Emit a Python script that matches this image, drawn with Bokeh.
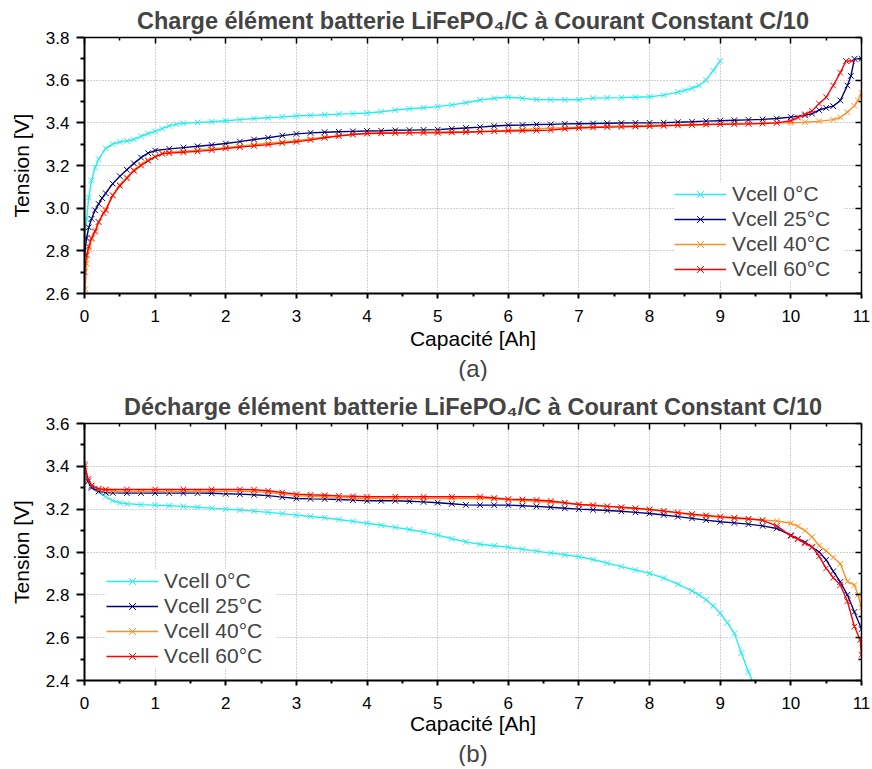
from bokeh.plotting import figure
from bokeh.models import (Range1d, FixedTicker, LinearAxis, Title, Legend, LegendItem,
                          PrintfTickFormatter, ColumnDataSource)
from bokeh.layouts import column
from bokeh.embed import file_html
from bokeh.resources import INLINE

# ---------------- data ----------------
SERIES_LABELS = ["Vcell 0°C", "Vcell 25°C", "Vcell 40°C", "Vcell 60°C"]
SERIES_COLORS = ["#22EEEE", "#000080", "#FF9020", "#FF0000"]

X_TICKS = [0, 1, 2, 3, 4, 5, 6, 7, 8, 9, 10, 11]
X_MINOR = [0.5, 1.5, 2.5, 3.5, 4.5, 5.5, 6.5, 7.5, 8.5, 9.5, 10.5]
X_GRID = [1, 2, 3, 4, 5, 6, 7, 8, 9, 10]

CHG_Y_TICKS = [2.6, 2.8, 3.0, 3.2, 3.4, 3.6, 3.8]
CHG_Y_MINOR = [2.7, 2.9, 3.1, 3.3, 3.5, 3.7]
DCH_Y_TICKS = [2.4, 2.6, 2.8, 3.0, 3.2, 3.4, 3.6]
DCH_Y_MINOR = [2.5, 2.7, 2.9, 3.1, 3.3, 3.5]

# Charge, 0 °C
CHG_0C_X = [0.0, 0.03, 0.06, 0.1, 0.15, 0.2, 0.3, 0.4, 0.5, 0.6, 0.7, 0.8, 0.9, 1.0, 1.1, 1.2, 1.3,
            1.4, 1.6, 1.8, 2.0, 2.2, 2.4, 2.6, 2.8, 3.0, 3.2, 3.4, 3.6, 3.8, 4.0, 4.2, 4.4, 4.6, 4.8,
            5.0, 5.2, 5.4, 5.6, 5.8, 6.0, 6.2, 6.4, 6.6, 6.8, 7.0, 7.2, 7.4, 7.6, 7.8, 8.0, 8.2, 8.4,
            8.5, 8.6, 8.7, 8.8, 8.9, 9.0]
CHG_0C_V = [2.86, 2.95, 3.05, 3.13, 3.19, 3.23, 3.28, 3.30, 3.31, 3.315, 3.322, 3.337, 3.35, 3.36,
            3.373, 3.386, 3.394, 3.398, 3.402, 3.405, 3.41, 3.415, 3.42, 3.424, 3.428, 3.432, 3.435,
            3.438, 3.441, 3.443, 3.446, 3.452, 3.46, 3.466, 3.471, 3.476, 3.484, 3.494, 3.507, 3.515,
            3.52, 3.515, 3.509, 3.508, 3.508, 3.508, 3.516, 3.517, 3.518, 3.52, 3.522, 3.53, 3.544,
            3.552, 3.562, 3.575, 3.60, 3.645, 3.69]

# Charge, 25 °C
CHG_25C_X = [0.0, 0.03, 0.06, 0.1, 0.15, 0.2, 0.25, 0.3, 0.4, 0.5, 0.6, 0.7, 0.8, 0.9, 1.0, 1.2, 1.4,
             1.6, 1.8, 2.0, 2.2, 2.4, 2.6, 2.8, 3.0, 3.2, 3.4, 3.6, 3.8, 4.0, 4.2, 4.4, 4.6, 4.8, 5.0,
             5.2, 5.4, 5.6, 5.8, 6.0, 6.2, 6.4, 6.6, 6.8, 7.0, 7.2, 7.4, 7.6, 7.8, 8.0, 8.2, 8.4, 8.6,
             8.8, 9.0, 9.2, 9.4, 9.6, 9.8, 10.0, 10.2, 10.3, 10.4, 10.5, 10.6, 10.7, 10.8, 10.85,
             10.9, 11.0]
CHG_25C_V = [2.78, 2.86, 2.91, 2.95, 2.99, 3.02, 3.047, 3.07, 3.115, 3.15, 3.18, 3.21, 3.237, 3.258,
             3.27, 3.278, 3.284, 3.29, 3.296, 3.303, 3.312, 3.322, 3.33, 3.34, 3.348, 3.353, 3.356,
             3.358, 3.36, 3.362, 3.363, 3.365, 3.366, 3.367, 3.368, 3.372, 3.376, 3.38, 3.385, 3.389,
             3.39, 3.392, 3.393, 3.395, 3.396, 3.397, 3.398, 3.399, 3.40, 3.40, 3.401, 3.403, 3.405,
             3.408, 3.41, 3.412, 3.414, 3.416, 3.42, 3.427, 3.435, 3.443, 3.46, 3.47, 3.478, 3.505,
             3.575, 3.62, 3.70, 3.70]

# Charge, 40 °C
CHG_40C_X = [0.01, 0.03, 0.06, 0.1, 0.15, 0.2, 0.3, 0.4, 0.5, 0.6, 0.7, 0.8, 0.9, 1.0, 1.1, 1.2, 1.4,
             1.6, 1.8, 2.0, 2.2, 2.4, 2.6, 2.8, 3.0, 3.2, 3.4, 3.6, 3.8, 4.0, 4.2, 4.4, 4.6, 4.8, 5.0,
             5.2, 5.4, 5.6, 5.8, 6.0, 6.2, 6.4, 6.6, 6.8, 7.0, 7.2, 7.4, 7.6, 7.8, 8.0, 8.2, 8.4, 8.6,
             8.8, 9.0, 9.2, 9.4, 9.6, 9.8, 10.0, 10.2, 10.4, 10.6, 10.7, 10.8, 10.9, 10.95, 11.0]
CHG_40C_V = [2.62, 2.74, 2.81, 2.855, 2.895, 2.935, 2.995, 3.06, 3.11, 3.145, 3.18, 3.205, 3.226,
             3.242, 3.256, 3.262, 3.267, 3.272, 3.278, 3.284, 3.29, 3.297, 3.304, 3.31, 3.316, 3.324,
             3.333, 3.34, 3.346, 3.35, 3.352, 3.354, 3.355, 3.356, 3.357, 3.358, 3.359, 3.36, 3.362,
             3.365, 3.368, 3.372, 3.375, 3.377, 3.379, 3.381, 3.383, 3.385, 3.386, 3.388, 3.389, 3.39,
             3.392, 3.393, 3.395, 3.396, 3.397, 3.398, 3.40, 3.40, 3.403, 3.407, 3.415, 3.425, 3.45,
             3.48, 3.505, 3.54]

# Charge, 60 °C
CHG_60C_X = [0.0, 0.03, 0.06, 0.1, 0.15, 0.2, 0.27, 0.3, 0.4, 0.5, 0.6, 0.7, 0.8, 0.9, 1.0, 1.1, 1.2,
             1.4, 1.6, 1.8, 2.0, 2.2, 2.4, 2.6, 2.8, 3.0, 3.2, 3.4, 3.6, 3.8, 4.0, 4.2, 4.4, 4.6, 4.8,
             5.0, 5.2, 5.4, 5.6, 5.8, 6.0, 6.2, 6.4, 6.6, 6.8, 7.0, 7.2, 7.4, 7.6, 7.8, 8.0, 8.2, 8.4,
             8.6, 8.8, 9.0, 9.2, 9.4, 9.6, 9.8, 10.0, 10.1, 10.2, 10.3, 10.4, 10.5, 10.6, 10.7, 10.78,
             10.86]
CHG_60C_V = [2.70, 2.78, 2.82, 2.86, 2.89, 2.935, 2.977, 2.99, 3.06, 3.105, 3.14, 3.175, 3.20, 3.222,
             3.24, 3.255, 3.258, 3.262, 3.266, 3.272, 3.28, 3.286, 3.292, 3.298, 3.305, 3.311, 3.32,
             3.33, 3.338, 3.345, 3.35, 3.351, 3.352, 3.353, 3.353, 3.353, 3.355, 3.356, 3.358, 3.36,
             3.362, 3.363, 3.364, 3.366, 3.372, 3.376, 3.378, 3.38, 3.381, 3.383, 3.384, 3.386, 3.388,
             3.39, 3.392, 3.393, 3.394, 3.395, 3.397, 3.40, 3.41, 3.425, 3.44, 3.456, 3.49, 3.52,
             3.575, 3.635, 3.69, 3.69]

# Discharge, 0 °C
DCH_0C_X = [0.0, 0.05, 0.1, 0.2, 0.3, 0.4, 0.5, 0.6, 0.8, 1.0, 1.2, 1.4, 1.6, 1.8, 2.0, 2.2, 2.4, 2.6,
            2.8, 3.0, 3.2, 3.4, 3.6, 3.8, 4.0, 4.2, 4.4, 4.6, 4.8, 5.0, 5.2, 5.4, 5.6, 5.8, 6.0, 6.2,
            6.4, 6.6, 6.8, 7.0, 7.2, 7.4, 7.6, 7.8, 8.0, 8.2, 8.4, 8.6, 8.7, 8.8, 8.9, 9.0, 9.1, 9.2,
            9.3, 9.4, 9.46]
DCH_0C_V = [3.38, 3.33, 3.305, 3.28, 3.258, 3.24, 3.23, 3.225, 3.221, 3.219, 3.216, 3.213, 3.209,
            3.205, 3.20, 3.196, 3.191, 3.185, 3.179, 3.172, 3.166, 3.16, 3.152, 3.143, 3.134, 3.125,
            3.115, 3.105, 3.093, 3.079, 3.062, 3.047, 3.036, 3.029, 3.022, 3.013, 3.004, 2.995, 2.987,
            2.978, 2.965, 2.948, 2.932, 2.916, 2.90, 2.878, 2.85, 2.818, 2.80, 2.777, 2.748, 2.714,
            2.67, 2.62, 2.528, 2.44, 2.395]

# Discharge, 25 °C
DCH_25C_X = [0.0, 0.05, 0.1, 0.2, 0.3, 0.4, 0.6, 0.8, 1.0, 1.2, 1.4, 1.6, 1.8, 2.0, 2.2, 2.4, 2.6, 2.8,
             3.0, 3.2, 3.4, 3.6, 3.8, 4.0, 4.2, 4.4, 4.6, 4.8, 5.0, 5.2, 5.4, 5.6, 5.8, 6.0, 6.2, 6.4,
             6.6, 6.8, 7.0, 7.2, 7.4, 7.6, 7.8, 8.0, 8.2, 8.4, 8.6, 8.8, 9.0, 9.2, 9.4, 9.6, 9.8, 10.0,
             10.1, 10.2, 10.3, 10.4, 10.5, 10.6, 10.7, 10.8, 10.9, 11.0]
DCH_25C_V = [3.40, 3.33, 3.30, 3.283, 3.277, 3.276, 3.275, 3.275, 3.275, 3.275, 3.275, 3.275, 3.274,
             3.272, 3.27, 3.267, 3.263, 3.256, 3.25, 3.248, 3.247, 3.245, 3.242, 3.239, 3.239, 3.239,
             3.237, 3.234, 3.23, 3.225, 3.22, 3.219, 3.219, 3.219, 3.216, 3.213, 3.209, 3.204, 3.20,
             3.197, 3.194, 3.19, 3.185, 3.18, 3.173, 3.165, 3.157, 3.149, 3.141, 3.136, 3.13, 3.122,
             3.11, 3.078, 3.062, 3.045, 3.022, 3.0, 2.963, 2.91, 2.86, 2.80, 2.72, 2.64]

# Discharge, 40 °C
DCH_40C_X = [0.0, 0.05, 0.1, 0.2, 0.3, 0.4, 0.8, 1.2, 1.6, 2.0, 2.4, 2.6, 2.8, 3.0, 3.2, 3.4, 3.6, 3.8,
             4.0, 4.4, 4.8, 5.2, 5.6, 5.8, 6.0, 6.2, 6.4, 6.6, 6.8, 7.0, 7.2, 7.4, 7.6, 7.8, 8.0, 8.2,
             8.4, 8.6, 8.8, 9.0, 9.2, 9.4, 9.6, 9.8, 10.0, 10.1, 10.2, 10.3, 10.4, 10.5, 10.6, 10.7,
             10.8, 10.9, 10.95, 11.0]
DCH_40C_V = [3.40, 3.34, 3.31, 3.293, 3.288, 3.284, 3.283, 3.283, 3.283, 3.283, 3.282, 3.278, 3.27,
             3.263, 3.26, 3.258, 3.255, 3.252, 3.25, 3.25, 3.25, 3.25, 3.25, 3.248, 3.243, 3.24, 3.237,
             3.232, 3.228, 3.222, 3.218, 3.214, 3.208, 3.203, 3.197, 3.19, 3.182, 3.174, 3.167, 3.162,
             3.157, 3.153, 3.15, 3.145, 3.134, 3.12, 3.10, 3.07, 3.03, 3.005, 2.975, 2.945, 2.862,
             2.846, 2.80, 2.74]

# Discharge, 60 °C
DCH_60C_X = [0.0, 0.05, 0.1, 0.2, 0.3, 0.6, 1.0, 1.4, 1.8, 2.2, 2.4, 2.6, 2.8, 3.0, 3.2, 3.4, 3.6, 3.8,
             4.0, 4.4, 4.8, 5.2, 5.6, 5.8, 6.0, 6.2, 6.4, 6.6, 6.8, 7.0, 7.2, 7.4, 7.6, 7.8, 8.0, 8.2,
             8.4, 8.6, 8.8, 9.0, 9.2, 9.4, 9.6, 9.8, 10.0, 10.1, 10.2, 10.3, 10.4, 10.5, 10.6, 10.7,
             10.8, 10.9, 10.98, 11.0]
DCH_60C_V = [3.41, 3.34, 3.31, 3.295, 3.292, 3.292, 3.292, 3.292, 3.292, 3.292, 3.291, 3.286, 3.278,
             3.27, 3.267, 3.265, 3.262, 3.26, 3.258, 3.258, 3.258, 3.258, 3.258, 3.252, 3.247, 3.245,
             3.243, 3.238, 3.23, 3.222, 3.218, 3.213, 3.209, 3.204, 3.199, 3.192, 3.184, 3.177, 3.171,
             3.165, 3.16, 3.155, 3.148, 3.122, 3.075, 3.06, 3.04, 3.025, 2.98, 2.924, 2.88, 2.846,
             2.77, 2.652, 2.59, 2.52]

CHG_TITLE = "Charge élément batterie LiFePO₄/C à Courant Constant C/10"
DCH_TITLE = "Décharge élément batterie LiFePO₄/C à Courant Constant C/10"
X_LABEL = "Capacité [Ah]"
Y_LABEL = "Tension [V]"

FONT = "Liberation Sans"


def style_axis(ax, tick_out, tick_in, minor_out, minor_in, lw, ticks, labels=True, fs="17px"):
    ax.major_tick_out = tick_out
    ax.major_tick_in = tick_in
    ax.minor_tick_out = minor_out
    ax.minor_tick_in = minor_in
    ax.axis_line_width = lw
    ax.major_tick_line_width = lw
    ax.minor_tick_line_width = lw
    ax.axis_line_color = "black"
    ax.major_tick_line_color = "black"
    ax.minor_tick_line_color = "black"
    ax.major_label_text_font = FONT
    ax.major_label_text_color = "black"
    ax.major_label_text_font_size = fs
    if not labels:
        ax.major_label_overrides = {t: "" for t in ticks}
        ax.major_label_standoff = 0


def make_plot(title, sub, series_x, series_v, yr, yticks, yminor, height, b_top, b_bottom,
              leg_loc, title_standoff, xlabel_standoff):
    p = figure(width=872, height=height, x_range=Range1d(0, 11), y_range=Range1d(*yr),
               output_backend="svg", toolbar_location=None,
               min_border_left=84, min_border_right=11, min_border_top=b_top,
               min_border_bottom=b_bottom)
    p.outline_line_color = None
    p.background_fill_color = "white"
    p.border_fill_color = "white"

    p.xaxis.ticker = FixedTicker(ticks=X_TICKS, minor_ticks=X_MINOR)
    p.yaxis.ticker = FixedTicker(ticks=yticks, minor_ticks=yminor)
    p.yaxis.formatter = PrintfTickFormatter(format="%.1f")
    xa = p.xaxis[0]
    ya = p.yaxis[0]
    style_axis(xa, 5, 0, 3, 0, 2, X_TICKS)
    style_axis(ya, 8, 0, 4, 0, 2, yticks)
    xa.major_label_standoff = 11
    ya.major_label_standoff = 7
    xa.axis_label = X_LABEL
    ya.axis_label = Y_LABEL
    for a in (xa, ya):
        a.axis_label_text_font = FONT
        a.axis_label_text_font_style = "normal"
        a.axis_label_text_font_size = "21px"
        a.axis_label_text_color = "black"
    xa.axis_label_standoff = xlabel_standoff
    ya.axis_label_standoff = 10

    top = LinearAxis(ticker=FixedTicker(ticks=X_TICKS, minor_ticks=X_MINOR))
    style_axis(top, 0, 6, 0, 3, 1.5, X_TICKS, labels=False)
    p.add_layout(top, "above")
    right = LinearAxis(ticker=FixedTicker(ticks=yticks, minor_ticks=yminor))
    style_axis(right, 0, 6, 0, 3, 1.5, yticks, labels=False)
    p.add_layout(right, "right")

    p.xgrid.ticker = FixedTicker(ticks=X_GRID)
    p.ygrid.ticker = FixedTicker(ticks=yticks[1:-1])
    for g in (p.xgrid, p.ygrid):
        g.grid_line_color = "#a0a0a0"
        g.grid_line_dash = "1 2"
        g.grid_line_width = 1

    p.title.text = title
    p.title.align = "center"
    p.title.text_font = FONT
    p.title.text_font_size = "23.5px"
    p.title.text_font_style = "bold"
    p.title.standoff = title_standoff

    p.add_layout(Title(text=sub, align="center", text_font=FONT, text_font_size="24px",
                       text_font_style="normal", standoff=0), "below")

    items = []
    for lab, col, xs, vs in zip(SERIES_LABELS, SERIES_COLORS, series_x, series_v):
        src = ColumnDataSource(dict(x=xs, v=vs))
        lr = p.line("x", "v", source=src, line_color=col, line_width=1.4)
        sr = p.scatter("x", "v", source=src, marker="x", size=8, line_color=col, line_width=1)
        items.append(LegendItem(label=lab, renderers=[lr, sr]))

    leg = Legend(items=items, location=leg_loc, glyph_width=52, glyph_height=24, label_height=24,
                 spacing=1, padding=14, margin=0, label_standoff=6, label_width=112,
                 label_text_font=FONT, label_text_font_size="21px", border_line_color=None,
                 background_fill_color="white", background_fill_alpha=1.0)
    p.add_layout(leg)
    return p


p1 = make_plot(CHG_TITLE, "(a)",
               [CHG_0C_X, CHG_25C_X, CHG_40C_X, CHG_60C_X],
               [CHG_0C_V, CHG_25C_V, CHG_40C_V, CHG_60C_V],
               (2.6, 3.8), CHG_Y_TICKS, CHG_Y_MINOR, 381, 37, 86, (590, 12), 8, 2)
p2 = make_plot(DCH_TITLE, "(b)",
               [DCH_0C_X, DCH_25C_X, DCH_40C_X, DCH_60C_X],
               [DCH_0C_V, DCH_25C_V, DCH_40C_V, DCH_60C_V],
               (2.4, 3.6), DCH_Y_TICKS, DCH_Y_MINOR, 385, 42, 86, (22, 12), 8, 0)

layout = column(p1, p2, spacing=0)
open("out.html", "w").write(file_html(layout, INLINE))
